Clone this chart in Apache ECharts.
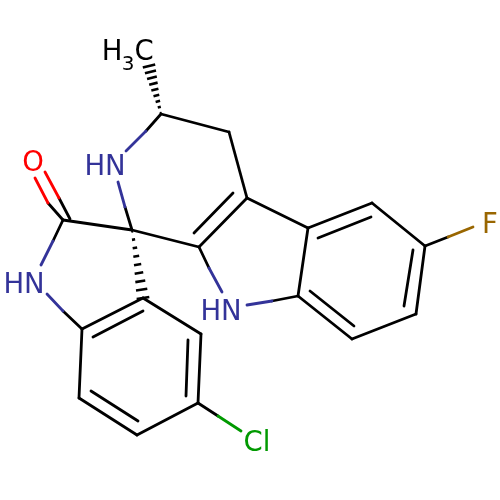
<!DOCTYPE html>
<html><head><meta charset="utf-8">
<style>html,body{margin:0;padding:0;background:#fff}#c{width:500px;height:500px}</style>
<script src="https://cdn.jsdelivr.net/npm/echarts@6/dist/echarts.min.js"></script>
</head><body><div id="c"></div>
<script>
const blackBonds = [
 [161,114,229,132],[229,132,247,198],[247,198,199,247],[194,233,233,193],
 [199,247,132,230],[132,230,63,220],[161,114,146,131],[125,207,132,230],
 [48,203,63,220],[59,198,70,219],[63,220,53,241],
 [247,198,308,228],[308,228,372,203],[318,238,371,217],[372,203,425,246],
 [425,246,416,314],[413,250,404,306],[416,314,352,339],[352,339,298,296],
 [310,291,354,326],[298,296,308,228],[298,296,272,301],[425,246,448,237],
 [199,247,209,268],[63,311,82,329],
 [82,329,143,298],[93,337,143,311],[143,298,201,334],[201,334,198,403],
 [188,340,186,396],[198,403,137,435],[138,421,91,391],[137,435,79,398],[79,398,82,329],
 [198,403,218,416]
];
const blueBonds = [
 [146,131,126,151],[118,182,125,207],[53,241,41,265],[47,294,63,311],
 [209,268,222,292],[247,305,272,301]
];
const redBonds = [[35,178,48,203],[45,172,59,198]];
const goldBonds = [[448,237,473,227]];
const greenBonds = [[218,416,241,431]];
const hashBonds = [[161,114,149,66],[132,230,143,298]];
const atomLabels = [
 ['HN',105,167.5,'#333399',27.5],['O',33,163.5,'#ff0000',27.5],['HN',24,285.5,'#333399',27.5],
 ['HN',221,312.5,'#333399',27.5],['F',490,225.5,'#996600',27.5],['Cl',257,444,'#009900',27.5],
 ['H',112,52.5,'#000000',27.5],['3',128,64.5,'#000000',20],['C',144,52.5,'#000000',27.5]
];

const bondSeries = (segs,color,w) => ({
  type:'custom', coordinateSystem:'cartesian2d', silent:true, animation:false,
  data:segs, encode:{x:[0,2],y:[1,3]},
  renderItem:(p,api)=>{
    const a=api.coord([api.value(0),api.value(1)]), b=api.coord([api.value(2),api.value(3)]);
    return {type:'line',shape:{x1:a[0],y1:a[1],x2:b[0],y2:b[1]},
      style:{stroke:color,lineWidth:w,lineCap:'round',fill:null}};
  }
});
const hashSeries = {
  type:'custom', coordinateSystem:'cartesian2d', silent:true, animation:false,
  data:hashBonds, encode:{x:[0,2],y:[1,3]},
  renderItem:(p,api)=>{
    const a=api.coord([api.value(0),api.value(1)]), b=api.coord([api.value(2),api.value(3)]);
    const dx=b[0]-a[0],dy=b[1]-a[1],L=Math.hypot(dx,dy),nx=-dy/L,ny=dx/L,n=9,kids=[];
    for(let i=0;i<n;i++){
      const t=(i+0.15)/(n-0.85), hw=0.8+5.6*t, x=a[0]+dx*t, y=a[1]+dy*t;
      kids.push({type:'line',shape:{x1:x-nx*hw,y1:y-ny*hw,x2:x+nx*hw,y2:y+ny*hw},
        style:{stroke:'#000',lineWidth:2.6,fill:null}});
    }
    return {type:'group',children:kids};
  }
};
const labelSeries = {
  type:'custom', coordinateSystem:'cartesian2d', silent:true, animation:false,
  data:atomLabels.map(d=>[d[1],d[2]]), encode:{x:0,y:1},
  renderItem:(p,api)=>{
    const d=atomLabels[p.dataIndex], c=api.coord([d[1],d[2]]);
    return {type:'text',x:c[0],y:c[1],style:{text:d[0],fill:d[3],font:d[4]+'px "DejaVu Sans"',align:'center',verticalAlign:'middle'}};
  }
};
const chart=echarts.init(document.getElementById('c'),null,{renderer:'canvas'});
chart.setOption({
  backgroundColor:'#fff', animation:false,
  grid:{left:0,right:0,top:0,bottom:0},
  xAxis:{type:'value',min:0,max:500,show:false},
  yAxis:{type:'value',min:0,max:500,inverse:true,show:false},
  series:[
    bondSeries(blackBonds,'#000',2.8),bondSeries(blueBonds,'#333399',2.8),
    bondSeries(redBonds,'#ff0000',2.8),bondSeries(goldBonds,'#996600',2.8),
    bondSeries(greenBonds,'#009900',2.8),hashSeries,labelSeries
  ]
});
</script></body></html>
